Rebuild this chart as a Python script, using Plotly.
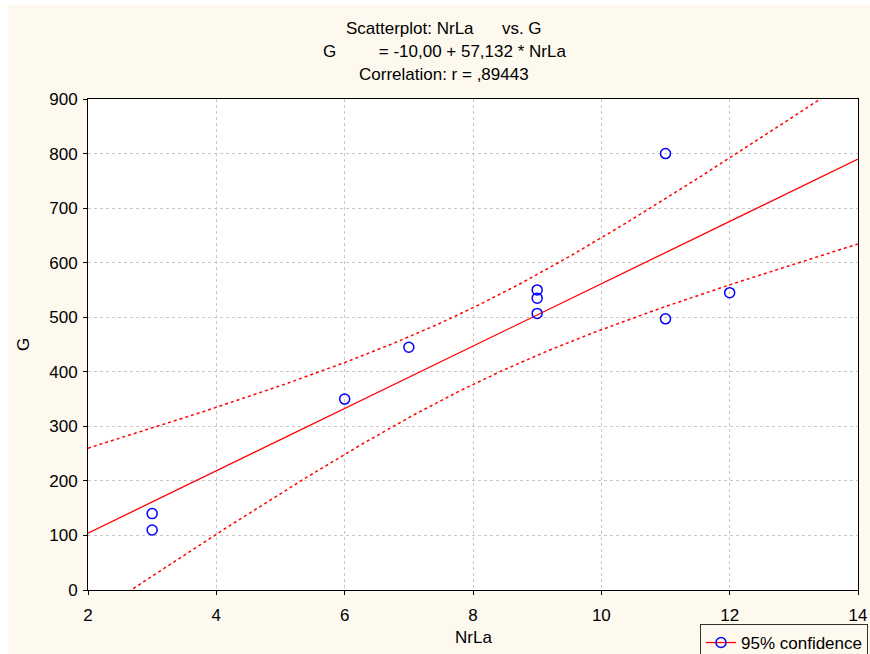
import numpy as np
import plotly.graph_objects as go

nrla = [3, 3, 6, 7, 9, 9, 9, 11, 11, 12]
g = [140, 110, 350, 445, 550, 535, 507, 800, 497, 545]
x_ticks = [2, 4, 6, 8, 10, 12, 14]
y_ticks = [0, 100, 200, 300, 400, 500, 600, 700, 800, 900]
title_lines = ["Scatterplot: NrLa\u00a0\u00a0\u00a0\u00a0\u00a0 vs. G",
               "G\u00a0\u00a0\u00a0\u00a0\u00a0\u00a0\u00a0\u00a0 = -10,00 + 57,132 * NrLa",
               "Correlation: r = ,89443"]
intercept, slope = -10.0, 57.132
t_crit = 2.306  # t(0.975, df=8)

x = np.array(nrla, float)
y = np.array(g, float)
n = len(x)
xm = x.mean()
sxx = ((x - xm) ** 2).sum()
resid = y - (intercept + slope * x)
s = np.sqrt((resid ** 2).sum() / (n - 2))
xs = np.linspace(2, 14, 300)
fit = intercept + slope * xs
half = t_crit * s * np.sqrt(1 / n + (xs - xm) ** 2 / sxx)

RED = "#ff0000"
BLUE = "#0000ff"
CREAM = "#fdf9ef"
fig = go.Figure()
fig.add_trace(go.Scatter(x=xs, y=fit + half, mode="lines", line=dict(color=RED, width=1.5, dash="dot"), showlegend=False))
fig.add_trace(go.Scatter(x=xs, y=fit - half, mode="lines", line=dict(color=RED, width=1.5, dash="dot"), showlegend=False))
fig.add_trace(go.Scatter(x=xs, y=fit, mode="lines", line=dict(color=RED, width=1.3), showlegend=False))
fig.add_trace(go.Scatter(x=nrla, y=g, mode="markers",
                         marker=dict(symbol="circle-open", size=10, color=BLUE, line=dict(width=1.5, color=BLUE)),
                         showlegend=False))
fig.add_trace(go.Scatter(x=[None], y=[None], mode="lines+markers", name="95% confidence",
                         line=dict(color=RED, width=1.3),
                         marker=dict(symbol="circle-open", size=10, color=BLUE, line=dict(width=1.5, color=BLUE))))

W, H = 870, 654
PL, PR, PT, PB = 88, 858, 99, 590  # plot area in page pixels
L, T, R, B = PL, PT, W - PR, H - PB
pw, ph = W - L - R, H - T - B

def px_to_paper_x(px):
    return (px - L) / pw

def py_to_paper_y(py):
    return (H - B - py) / ph

font = "Arial, Liberation Sans, sans-serif"
FS = 17
annotations = []
for txt, py in zip(title_lines, [29, 52, 75]):
    annotations.append(dict(text=txt, x=px_to_paper_x(444), y=py_to_paper_y(py), xref="paper", yref="paper",
                            showarrow=False, xanchor="center", yanchor="middle",
                            font=dict(family=font, size=FS, color="#000")))
annotations.append(dict(text="NrLa", x=px_to_paper_x(473), y=py_to_paper_y(637), xref="paper", yref="paper",
                        showarrow=False, xanchor="center", yanchor="middle",
                        font=dict(family=font, size=FS, color="#000")))
annotations.append(dict(text="G", x=px_to_paper_x(23), y=py_to_paper_y(345), xref="paper", yref="paper",
                        showarrow=False, xanchor="center", yanchor="middle", textangle=-90,
                        font=dict(family=font, size=FS, color="#000")))

white_border = [
    dict(type="rect", xref="paper", yref="paper", layer="below",
         x0=px_to_paper_x(-2), x1=px_to_paper_x(8), y0=py_to_paper_y(H + 2), y1=py_to_paper_y(-2),
         fillcolor="white", line=dict(width=0)),
    dict(type="rect", xref="paper", yref="paper", layer="below",
         x0=px_to_paper_x(-2), x1=px_to_paper_x(W + 2), y0=py_to_paper_y(5), y1=py_to_paper_y(-2),
         fillcolor="white", line=dict(width=0)),
]

fig.update_layout(
    width=W, height=H,
    margin=dict(l=L, r=R, t=T, b=B, autoexpand=False),
    paper_bgcolor=CREAM,
    plot_bgcolor="white",
    font=dict(family=font, size=FS, color="#000"),
    annotations=annotations,
    shapes=white_border,
    hovermode=False,
    xaxis=dict(range=[2, 14], tickvals=x_ticks, ticktext=[str(v) for v in x_ticks],
               showgrid=True, gridcolor="#c8c8c8", griddash="dot", gridwidth=1,
               showline=True, linecolor="#000", linewidth=1, mirror=True,
               ticks="outside", ticklen=4, tickcolor="#000", zeroline=False,
               ticklabelstandoff=6, automargin=False,
               tickfont=dict(size=FS)),
    yaxis=dict(range=[0, 900], tickvals=y_ticks, ticktext=[str(v) for v in y_ticks],
               showgrid=True, gridcolor="#c8c8c8", griddash="dot", gridwidth=1,
               showline=True, linecolor="#000", linewidth=1, mirror=True,
               ticks="outside", ticklen=4, tickcolor="#000", zeroline=False,
               ticklabelstandoff=2, automargin=False,
               tickfont=dict(size=FS)),
    legend=dict(x=px_to_paper_x(700), y=py_to_paper_y(624), xanchor="left", yanchor="top",
                bgcolor=CREAM, bordercolor="#333", borderwidth=1,
                font=dict(size=FS), itemwidth=30, tracegroupgap=0),
    showlegend=True,
)

fig.write_html("out.html", config={"displayModeBar": False},
               post_script="document.body.style.margin='0';document.body.style.overflow='hidden';")
